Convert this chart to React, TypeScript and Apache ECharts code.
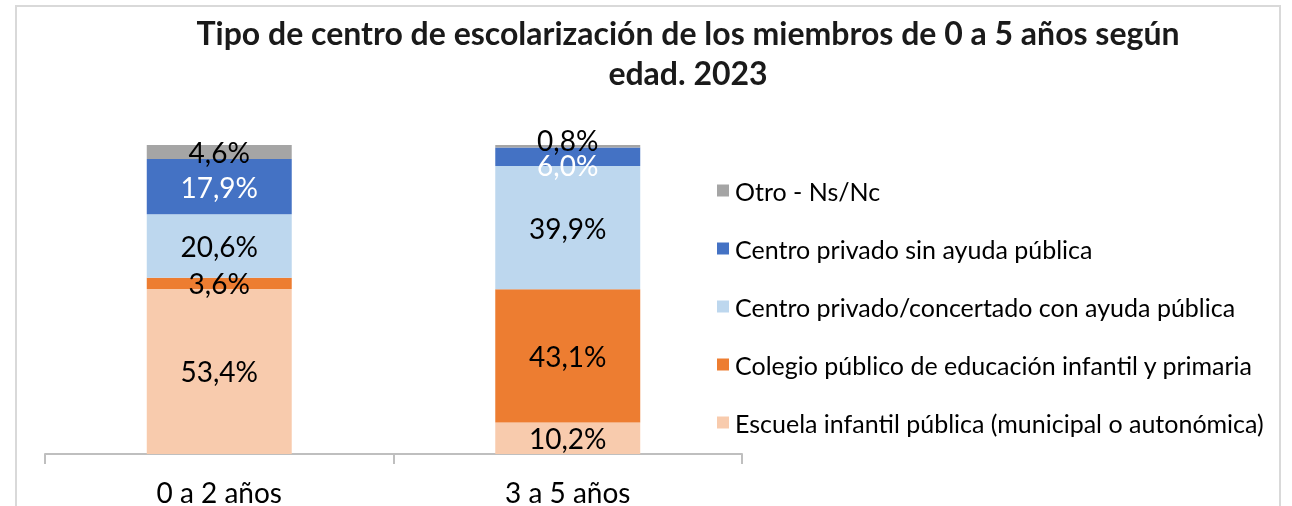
import React, { useEffect, useRef } from "react";
import * as echarts from "echarts";

const categories = ["0 a 2 años", "3 a 5 años"];
const seriesNames = [
  "Escuela infantil pública (municipal o autonómica)",
  "Colegio público de educación infantil y primaria",
  "Centro privado/concertado con ayuda pública",
  "Centro privado sin ayuda pública",
  "Otro - Ns/Nc",
];
const escuelaInfantil = [53.4, 10.2];
const colegioPublico = [3.6, 43.1];
const privadoConcertado = [20.6, 39.9];
const privadoSinAyuda = [17.9, 6.0];
const otro = [4.6, 0.8];
const seriesValues = [escuelaInfantil, colegioPublico, privadoConcertado, privadoSinAyuda, otro];
const colors = ["#f8cbad", "#ed7d31", "#bdd7ee", "#4472c4", "#a5a5a5"];
const labelColors = ["#000", "#000", "#000", "#fff", "#000"];
const titleText = "Tipo de centro de escolarización de los miembros de 0 a 5 años según\nedad. 2023";

// small label nudges for the crowded top of the second bar (series index -> offset)
const labelNudges: Record<number, number[]> = { 3: [0, 8], 4: [0, -6] };

export default function App() {
  const ref = useRef<HTMLDivElement>(null);
  useEffect(() => {
    const chart = echarts.init(ref.current!, null, { renderer: "svg" });
    chart.setOption({
      animation: false,
      textStyle: { fontFamily: "Lato" },
      graphic: [
        {
          type: "rect",
          shape: { x: 16, y: 6, width: 1264, height: 540 },
          style: { fill: "none", stroke: "#d9d9d9", lineWidth: 2 },
          silent: true,
        },
        {
          type: "text",
          x: 688,
          y: 12,
          style: {
            text: titleText,
            textAlign: "center",
            textVerticalAlign: "top",
            font: "bold 32px Lato",
            lineHeight: 40,
            fill: "#1a1a1a",
          },
        },
      ],
      legend: {
        orient: "vertical",
        left: 712,
        top: 173,
        itemWidth: 12,
        itemHeight: 12,
        itemGap: 33,
        icon: "rect",
        data: [...seriesNames].reverse(),
        textStyle: { fontSize: 25, lineHeight: 25, color: "#000", fontFamily: "Lato", padding: [0, 0, 0, 1] },
      },
      grid: { left: 45, right: 550, top: 145, bottom: 52 },
      xAxis: {
        type: "category",
        data: categories,
        axisLine: { lineStyle: { color: "#bfbfbf", width: 2 } },
        axisTick: { show: true, length: 10, lineStyle: { color: "#bfbfbf", width: 2 } },
        axisLabel: { fontSize: 28, color: "#000", margin: 24, fontFamily: "Lato" },
      },
      yAxis: { type: "value", min: 0, max: 100, show: false, splitLine: { show: false } },
      series: seriesNames.map((name, i) => ({
        name,
        type: "bar",
        stack: "total",
        barWidth: "41.6%",
        data: seriesValues[i].map((v, j) =>
          j === 1 && labelNudges[i] ? { value: v, label: { offset: labelNudges[i] } } : v
        ),
        itemStyle: { color: colors[i] },
        label: {
          show: true,
          position: "inside",
          fontSize: 28,
          color: labelColors[i],
          fontFamily: "Lato",
          formatter: (p: any) => p.value.toFixed(1).replace(".", ",") + "%",
        },
      })),
    });
    return () => chart.dispose();
  }, []);
  return <div ref={ref} style={{ position: "fixed", left: 0, top: 0, width: 1292, height: 506 }} />;
}
